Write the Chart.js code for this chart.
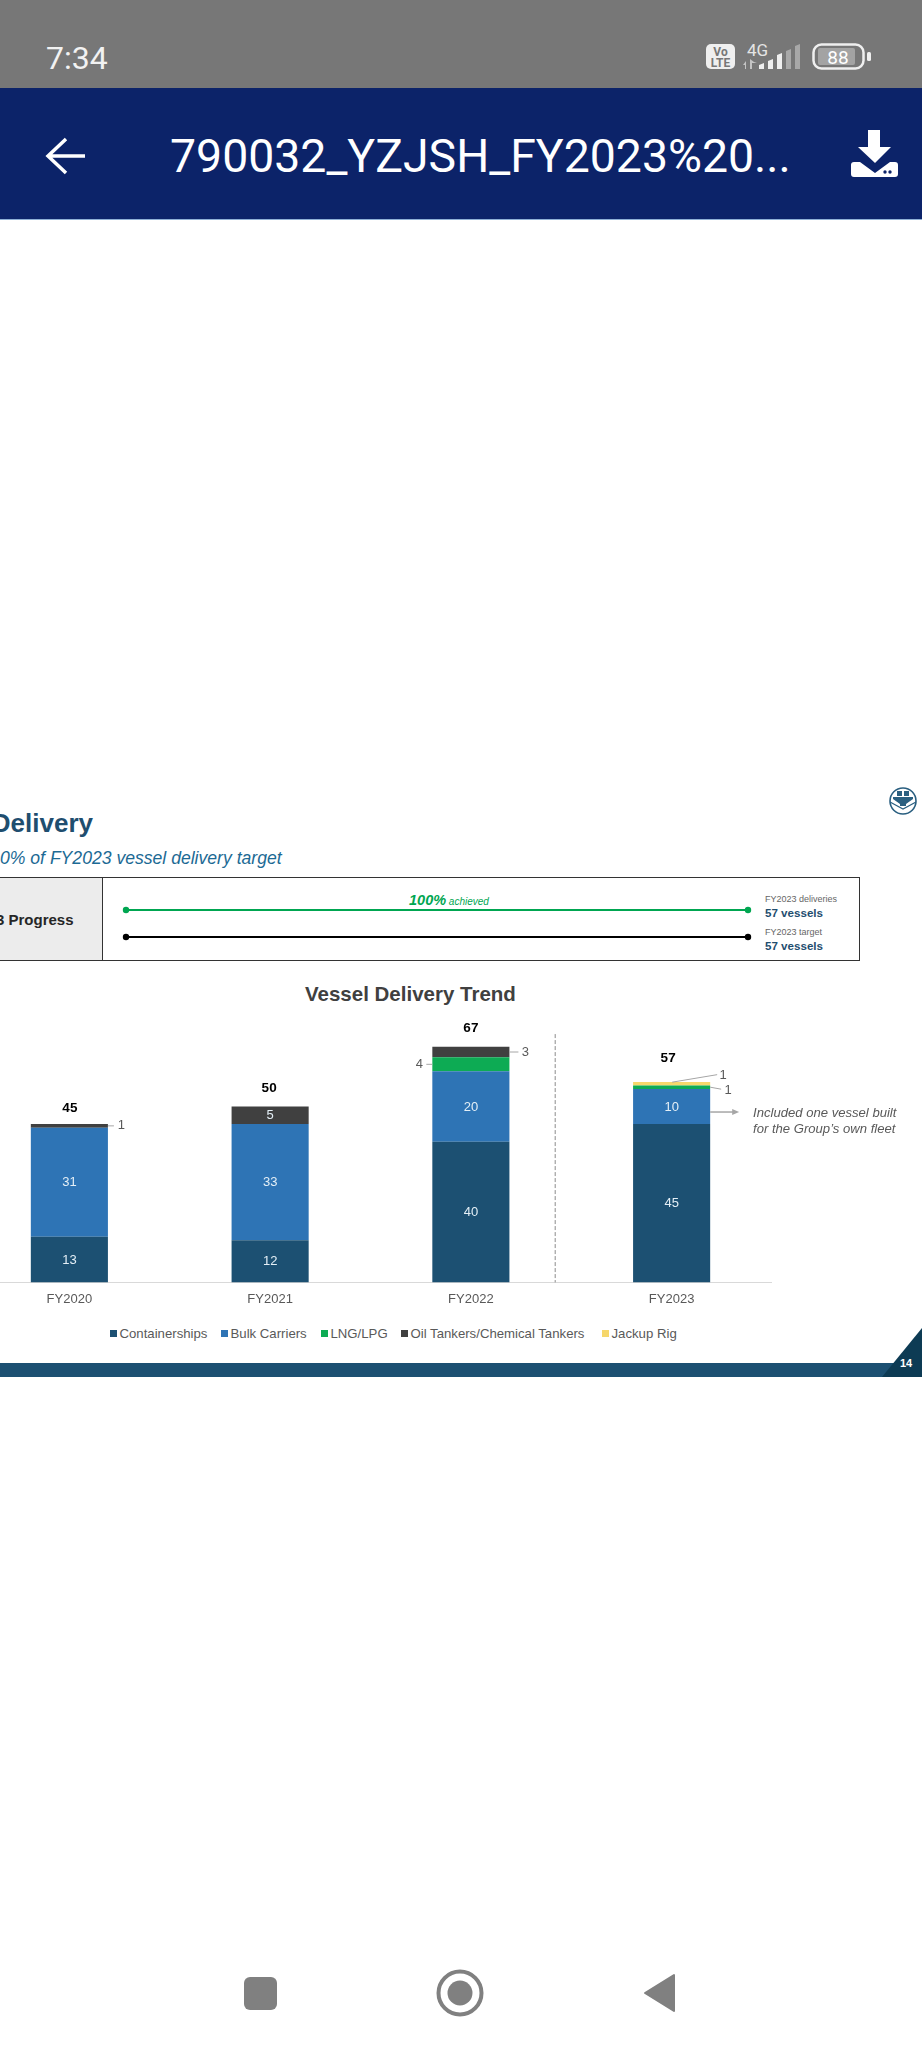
<!doctype html>
<html lang="en">
<head>
<meta charset="utf-8">
<title>Vessel Delivery Trend</title>
<script src="https://cdn.jsdelivr.net/npm/chart.js"></script>
<style>
  html, body { margin: 0; padding: 0; background: #fff; }
  body { position: relative; width: 922px; height: 2049px; overflow: hidden; font-family: "Liberation Sans", Arial, sans-serif; }
  .abs { position: absolute; white-space: nowrap; }
  .mid { transform: translateY(-50%); }
  #statusbar { position: absolute; left: 0; top: 0; width: 922px; height: 88px; background: #777777; }
  #appbar { position: absolute; left: 0; top: 88px; width: 922px; height: 131px; background: #0c2369; border-bottom: 1px solid #8fb0d6; }
  #progress { position: absolute; left: -2px; top: 877px; width: 860px; height: 82px; border: 1.5px solid #333; }
  #progressHead { position: absolute; left: 0; top: 0; width: 103px; height: 82px; background: #ececec; border-right: 1.5px solid #333; }
  #footband { position: absolute; left: 0; top: 1363px; width: 922px; height: 14px; background: #1c5072; }
  #chartBox { position: absolute; left: -31px; top: 1000px; }
  .leg { position: absolute; top: 1326px; font-size: 13.2px; line-height: 16px; color: #595959; white-space: nowrap; }
  .leg i { position: absolute; left: 0; top: 4px; width: 7px; height: 7px; }
  svg { position: absolute; left: 0; top: 0; }
</style>
</head>
<body>
  <div id="statusbar"></div>
  <div id="appbar"></div>
  <div id="progress"><div id="progressHead"></div></div>
  <div id="footband"></div>

  <svg width="922" height="2049" viewBox="0 0 922 2049">
    <!-- status bar icons -->
    <rect x="706" y="44" width="29" height="25" rx="5" fill="#efefef"/>
    <text x="720.5" y="55.5" text-anchor="middle" font-size="12" font-weight="bold" fill="#777" font-family="Roboto">Vo</text>
    <text x="720.5" y="66.5" text-anchor="middle" font-size="12" font-weight="bold" fill="#777" font-family="Roboto">LTE</text>
    <text x="747" y="56" font-size="17" fill="#e4e4e4" font-family="Roboto">4G</text>
    <path d="M746 69v-8l-3 4h2v4zM750 69v-10l4 3h3l-3 1h-2v6z" fill="#c4c4c4"/>
    <path d="M759 69v-4l5-2v6zM768 69v-8l5-2v10zM777 69v-14l5-2v16z" fill="#efefef"/>
    <path d="M786 69v-18l5-2v20zM795 69v-23l5-2v25z" fill="#a8a8a8"/>
    <rect x="813.5" y="44.5" width="50" height="24" rx="8" fill="none" stroke="#efefef" stroke-width="2.5"/>
    <rect x="818" y="48" width="37" height="17" rx="2" fill="#a3a3a3"/>
    <text x="838" y="64" text-anchor="middle" font-size="19" fill="#fff" font-family="Roboto">88</text>
    <rect x="867" y="52" width="4" height="9" rx="1.5" fill="#efefef"/>
    <!-- back arrow and download -->
    <path d="M85 156H49M66 139L48 156L66 173" fill="none" stroke="#fff" stroke-width="3.5"/>
    <path d="M868 130h12v17h11l-16 16l-17-16h10z" fill="#fff"/>
    <path d="M851 165a3 3 0 0 1 3-3h6l15 11l15-11h5a3 3 0 0 1 3 3v9a3 3 0 0 1-3 3h-41a3 3 0 0 1-3-3z" fill="#fff"/>
    <circle cx="885" cy="172" r="1.7" fill="#0c2369"/><circle cx="890" cy="172" r="1.7" fill="#0c2369"/>
    <!-- logo -->
    <circle cx="903" cy="801" r="13" fill="none" stroke="#2a5f80" stroke-width="1.6"/>
    <path d="M893 797h20v2l-7 5v2h-6v-2l-7-5z" fill="#2a5f80"/>
    <path d="M897 791h5v5h-5zM904 791h5v5h-5z" fill="#2a5f80"/>
    <path d="M890 802l13 7l13-7" fill="none" stroke="#2a5f80" stroke-width="1.2"/>
    <!-- progress lines -->
    <line x1="126" y1="910" x2="748" y2="910" stroke="#00a651" stroke-width="2"/>
    <circle cx="126" cy="910" r="3.2" fill="#00a651"/><circle cx="748" cy="910" r="3.2" fill="#00a651"/>
    <line x1="126" y1="937" x2="748" y2="937" stroke="#000" stroke-width="2"/>
    <circle cx="126" cy="937" r="3.2" fill="#000"/><circle cx="748" cy="937" r="3.2" fill="#000"/>
    <!-- footer corner -->
    <path d="M882 1377L922 1328V1377z" fill="#0d3b54"/>
    <!-- nav buttons -->
    <rect x="244" y="1977" width="33" height="33" rx="6" fill="#808080"/>
    <circle cx="460" cy="1993" r="21.5" fill="none" stroke="#808080" stroke-width="4"/>
    <circle cx="460" cy="1993" r="12.5" fill="#808080"/>
    <path d="M645 1993L674 1975V2011z" fill="#808080" stroke="#808080" stroke-width="2" stroke-linejoin="round"/>
  </svg>

  <div class="abs mid" style="left:46px;top:58px;font:32px Roboto;color:#f2f2f2">7:34</div>
  <div class="abs mid" style="left:170px;top:156px;font:46.4px Roboto;color:#fff">790032_YZJSH_FY2023%20...</div>

  <div class="abs" style="right:829px;top:807px;font:bold 26px 'Liberation Sans';line-height:32px;color:#1f4e6f">Delivery</div>
  <div class="abs mid" style="left:0;top:858px;font:italic 17.6px 'Liberation Sans';color:#1c6a94">0% of FY2023 vessel delivery target</div>
  <div class="abs mid" style="right:848.5px;top:919px;font:bold 15px 'Liberation Sans';color:#262626">3 Progress</div>
  <div class="abs mid" style="left:409px;top:900px;font:italic 10px 'Liberation Sans';color:#00a651"><b style="font-size:14.5px">100%</b> achieved</div>
  <div class="abs mid" style="left:765px;top:899px;font:9px 'Liberation Sans';color:#666">FY2023 deliveries</div>
  <div class="abs mid" style="left:765px;top:912px;font:bold 11.6px 'Liberation Sans';color:#1f4e6f">57 vessels</div>
  <div class="abs mid" style="left:765px;top:932px;font:9px 'Liberation Sans';color:#666">FY2023 target</div>
  <div class="abs mid" style="left:765px;top:945px;font:bold 11.6px 'Liberation Sans';color:#1f4e6f">57 vessels</div>

  <div class="abs mid" style="left:305px;top:994px;font:bold 20.5px 'Liberation Sans';color:#404040">Vessel Delivery Trend</div>

  <div id="chartBox"><canvas id="deliveryChart" width="803" height="320" style="width:803px;height:320px;display:block"></canvas></div>

  <div class="abs mid" style="left:753px;top:1112px;font:italic 13.1px 'Liberation Sans';color:#595959">Included one vessel built</div>
  <div class="abs mid" style="left:753px;top:1128px;font:italic 13.1px 'Liberation Sans';color:#595959">for the Group’s own fleet</div>

  <div id="legend"></div>
  <div class="abs mid" style="left:900px;top:1363px;font:bold 11px 'Liberation Sans';color:#fff">14</div>

<script>
  const years = ["FY2020", "FY2021", "FY2022", "FY2023"];
  const containerships = [13, 12, 40, 45];
  const bulkCarriers = [31, 33, 20, 10];
  const lngLpg = [0, 0, 4, 1];
  const oilTankers = [1, 5, 3, 0];
  const jackupRig = [0, 0, 0, 1];
  const totals = [45, 50, 67, 57];
  const seriesNames = ["Containerships", "Bulk Carriers", "LNG/LPG", "Oil Tankers/Chemical Tankers", "Jackup Rig"];
  const seriesColors = ["#1c5072", "#2e74b5", "#0dab54", "#404040", "#f6d76b"];
  const legendLefts = [110, 221, 321, 401, 602];

  const greyText = "#595959";
  const chartFont = "'Liberation Sans', Arial, sans-serif";

  // small values sit outside the bar with a leader line
  // offsets are relative to the right edge (or left for side -1) of the segment, at its middle
  const callouts = [
    { series: 3, year: 0, side: 1, lineTo: [6, 0], label: [13.5, 0] },
    { series: 2, year: 2, side: -1, lineTo: [6, 0], label: [13, 0] },
    { series: 3, year: 2, side: 1, lineTo: [9, 0], label: [16, 0] },
    { series: 2, year: 3, side: 1, lineTo: [11, 2], label: [18, 3] },
    { series: 4, year: 3, side: 1, start: [-38, -1.5], lineTo: [7, -9], label: [13, -8] }
  ];
  const totalNudge = [[0.5, -16], [-1, -18.5], [0, -18], [-3.5, -24]];

  const chartLabels = {
    id: "chartLabels",
    afterDatasetsDraw(chart) {
      const ctx = chart.ctx;
      const x = chart.scales.x, y = chart.scales.y;
      ctx.save();
      ctx.textAlign = "center";
      ctx.textBaseline = "middle";

      // values inside the segments
      chart.data.datasets.forEach((ds, i) => {
        chart.getDatasetMeta(i).data.forEach((bar, j) => {
          if (ds.data[j] >= 5) {
            ctx.font = "13px " + chartFont;
            ctx.fillStyle = "#e4eff6";
            ctx.fillText(ds.data[j], bar.x, (bar.y + bar.base) / 2 + 0.5);
          }
        });
      });

      // leader lines and their values
      callouts.forEach((c) => {
        const bar = chart.getDatasetMeta(c.series).data[c.year];
        const edge = bar.x + c.side * bar.width / 2;
        const midY = (bar.y + bar.base) / 2;
        const from = c.start || [0, 0];
        ctx.strokeStyle = "#a6a6a6";
        ctx.lineWidth = 1;
        ctx.beginPath();
        ctx.moveTo(edge + c.side * from[0], midY + from[1]);
        ctx.lineTo(edge + c.side * c.lineTo[0], midY + c.lineTo[1]);
        ctx.stroke();
        ctx.font = "13px " + chartFont;
        ctx.fillStyle = greyText;
        ctx.fillText(chart.data.datasets[c.series].data[c.year], edge + c.side * c.label[0], midY + c.label[1]);
      });

      // totals
      ctx.font = "bold 13.5px " + chartFont;
      ctx.fillStyle = "#000";
      totals.forEach((t, j) => {
        ctx.fillText(t, x.getPixelForValue(j) + totalNudge[j][0], y.getPixelForValue(t) + totalNudge[j][1]);
      });

      // dashed divider before FY2023
      const divX = x.getPixelForValue(2) + 0.42 * (x.getPixelForValue(3) - x.getPixelForValue(2));
      ctx.strokeStyle = "#8c8c8c";
      ctx.setLineDash([4, 2]);
      ctx.beginPath();
      ctx.moveTo(divX, y.getPixelForValue(70.6));
      ctx.lineTo(divX, y.getPixelForValue(0));
      ctx.stroke();
      ctx.setLineDash([]);

      // arrow from the bulk carrier segment of FY2023
      const b = chart.getDatasetMeta(1).data[3];
      const ax = b.x + b.width / 2, ay = (b.y + b.base) / 2 + 5.5;
      ctx.strokeStyle = "#a6a6a6";
      ctx.fillStyle = "#a6a6a6";
      ctx.lineWidth = 1.5;
      ctx.beginPath();
      ctx.moveTo(ax, ay);
      ctx.lineTo(ax + 24, ay);
      ctx.stroke();
      ctx.beginPath();
      ctx.moveTo(ax + 29, ay);
      ctx.lineTo(ax + 22, ay - 3);
      ctx.lineTo(ax + 22, ay + 3);
      ctx.fill();
      ctx.restore();
    }
  };

  const seriesData = [containerships, bulkCarriers, lngLpg, oilTankers, jackupRig];

  new Chart(document.getElementById("deliveryChart").getContext("2d"), {
    type: "bar",
    data: {
      labels: years,
      datasets: seriesNames.map((name, i) => ({
        label: name,
        data: seriesData[i],
        backgroundColor: seriesColors[i],
        borderWidth: 0,
        barPercentage: 0.384,
        categoryPercentage: 1
      }))
    },
    options: {
      responsive: false,
      animation: false,
      layout: { padding: { top: 1, bottom: 3 } },
      plugins: { legend: { display: false }, title: { display: false }, tooltip: { enabled: false } },
      scales: {
        x: {
          stacked: true,
          grid: { display: false, drawTicks: false },
          border: { color: "#d9d9d9", width: 1 },
          ticks: { color: greyText, font: { family: chartFont, size: 13 }, padding: 9.5, maxRotation: 0 }
        },
        y: { stacked: true, display: false, min: 0, max: 80 }
      }
    },
    plugins: [chartLabels]
  });

  // legend
  const legendBox = document.getElementById("legend");
  seriesNames.forEach((name, i) => {
    const item = document.createElement("div");
    item.className = "leg";
    item.style.left = legendLefts[i] + "px";
    item.style.paddingLeft = "9.5px";
    item.innerHTML = '<i style="background:' + seriesColors[i] + '"></i>' + name;
    legendBox.appendChild(item);
  });
</script>
</body>
</html>
